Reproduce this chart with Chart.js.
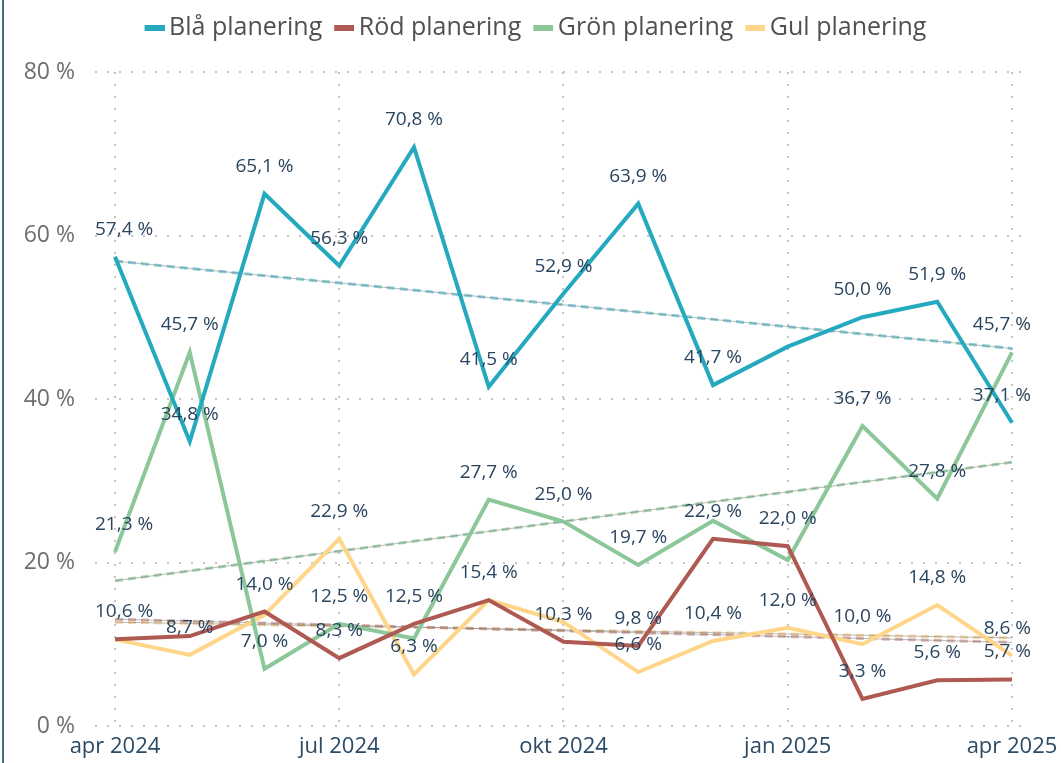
<!DOCTYPE html>
<html lang="sv">
<head>
<meta charset="utf-8">
<title>Planering per månad</title>
<script src="https://cdn.jsdelivr.net/npm/chart.js@4.4.1/dist/chart.umd.min.js"></script>
<style>
  html, body { margin: 0; padding: 0; background: #fff; }
  canvas { display: block; }
</style>
</head>
<body>
<canvas id="chart" width="1061" height="763"></canvas>
<script>
(function () {

  'use strict';

  // Months on the x axis, one point per month.
  var MONTHS = [
    'apr 2024', 'maj 2024', 'jun 2024', 'jul 2024', 'aug 2024', 'sep 2024',
    'okt 2024', 'nov 2024', 'dec 2024', 'jan 2025', 'feb 2025', 'mar 2025', 'apr 2025'
  ];

  // Only every third month gets a tick label and a grid line.
  var TICK_MONTHS = [0, 3, 6, 9, 12];

  var Y_TICKS = [0, 20, 40, 60, 80];

  var SERIES_NAMES = ['Blå planering', 'Röd planering', 'Grön planering', 'Gul planering'];

  // Shares in percent.
  var BLUE = [57.4, 34.8, 65.1, 56.3, 70.8, 41.5, 52.9, 63.9, 41.7, 46.4, 50.0, 51.9, 37.1];
  var RED = [10.6, 11.0, 14.0, 8.3, 12.5, 15.4, 10.3, 9.8, 22.9, 22.0, 3.3, 5.6, 5.7];
  var GREEN = [21.3, 45.7, 7.0, 12.5, 10.7, 27.7, 25.0, 19.7, 25.1, 20.3, 36.7, 27.8, 45.7];
  var YELLOW = [10.6, 8.7, 13.6, 22.9, 6.3, 15.4, 12.7, 6.6, 10.4, 12.0, 10.0, 14.8, 8.6];

  // Points whose value label is not shown in the original (overlaps).
  var BLUE_NO_LABEL = [9];
  var RED_NO_LABEL = [1];
  var GREEN_NO_LABEL = [4, 8, 9];
  var YELLOW_NO_LABEL = [0, 2, 5, 6];

  var COLORS = ['#25A9BE', '#AE5A52', '#8CC79A', '#FFD58A'];
  var TREND_COLORS = [
    'rgba(37, 169, 190, 0.55)',
    'rgba(174, 90, 82, 0.45)',
    'rgba(140, 199, 154, 0.75)',
    'rgba(240, 190, 110, 0.6)'
  ];

  var LABEL_COLOR = '#2A4560';
  var FONT = '"Open Sans", "Noto Sans", "DejaVu Sans", sans-serif';

  /**
   * Least squares line through the series, returned as its two ends.
   */
  function trendEnds(values) {
    var n = values.length;
    var mx = (n - 1) / 2;
    var my = values.reduce(function (a, b) { return a + b; }, 0) / n;
    var sxy = 0;
    var sxx = 0;
    values.forEach(function (v, i) {
      sxy += (i - mx) * (v - my);
      sxx += (i - mx) * (i - mx);
    });
    var slope = sxy / sxx;
    return [
      { x: 0, y: my - slope * mx },
      { x: n - 1, y: my + slope * (n - 1 - mx) }
    ];
  }

  function toPoints(values) {
    return values.map(function (v, i) { return { x: i, y: v }; });
  }

  function formatPct(v) {
    return v.toFixed(1).replace('.', ',') + ' %';
  }

  /**
   * Legend swatch as a small image; the bar sits at the right side of the
   * image so it ends up close to the legend text.
   */
  function swatch(color) {
    var c = document.createElement('canvas');
    c.width = 36;
    c.height = 6;
    var g = c.getContext('2d');
    g.fillStyle = color;
    g.fillRect(16, 0, 20, 6);
    return c;
  }

  var seriesValues = [BLUE, RED, GREEN, YELLOW];
  var noLabels = [BLUE_NO_LABEL, RED_NO_LABEL, GREEN_NO_LABEL, YELLOW_NO_LABEL];

  var datasets = [];
  seriesValues.forEach(function (values, s) {
    datasets.push({
      label: SERIES_NAMES[s],
      data: toPoints(values),
      borderColor: COLORS[s],
      backgroundColor: COLORS[s],
      borderWidth: 4,
      pointRadius: 0,
      tension: 0,
      order: s + 1,
      valueLabels: true,
      noLabel: noLabels[s]
    });
  });
  seriesValues.forEach(function (values, s) {
    var ends = trendEnds(values);
    datasets.push({
      label: 'trend',
      data: ends,
      borderColor: TREND_COLORS[s],
      borderWidth: 3,
      borderDash: [8, 5],
      pointRadius: 0,
      order: 20,
      isTrend: true
    });
    datasets.push({
      label: 'trend',
      data: ends,
      borderColor: 'rgba(130, 130, 130, 0.55)',
      borderWidth: 1,
      pointRadius: 0,
      order: 19,
      isTrend: true
    });
  });

  // Thin frame line on the left edge of the visual.
  var framePlugin = {
    id: 'frame',
    beforeDraw: function (chart) {
      var ctx = chart.ctx;
      ctx.save();
      ctx.fillStyle = '#3F6E7C';
      ctx.fillRect(2, 0, 2, chart.height);
      ctx.restore();
    }
  };

  // Keep the legend band tall so the plot starts where the original does,
  // and centre the legend on the whole visual rather than the left part.
  var legendBandPlugin = {
    id: 'legendBand',
    beforeLayout: function (chart) {
      var legend = chart.legend;
      if (!legend || legend._bandPatched) {
        return;
      }
      var fit = legend.fit;
      var draw = legend.draw;
      legend.fit = function () {
        fit.call(this);
        this.height = 61;
      };
      legend.draw = function () {
        this.ctx.save();
        this.ctx.translate(19, 0);
        draw.call(this);
        this.ctx.restore();
      };
      legend._bandPatched = true;
    }
  };

  // Value labels above each point.
  var valueLabelPlugin = {
    id: 'valueLabels',
    afterDatasetsDraw: function (chart) {
      var ctx = chart.ctx;
      var area = chart.chartArea;
      ctx.save();
      ctx.font = '19px ' + FONT;
      ctx.fillStyle = LABEL_COLOR;
      ctx.textAlign = 'center';
      ctx.textBaseline = 'alphabetic';
      chart.data.datasets.forEach(function (ds, di) {
        if (!ds.valueLabels) {
          return;
        }
        var meta = chart.getDatasetMeta(di);
        meta.data.forEach(function (pt, i) {
          if (ds.noLabel.indexOf(i) !== -1) {
            return;
          }
          var text = formatPct(ds.data[i].y);
          var w = ctx.measureText(text).width;
          var x = Math.min(Math.max(pt.x, area.left + w / 2), area.right + 6 - w / 2);
          ctx.fillText(text, x, pt.y - 22);
        });
      });
      ctx.restore();
    }
  };

  new Chart(document.getElementById('chart'), {
    type: 'line',
    data: { datasets: datasets },
    plugins: [framePlugin, legendBandPlugin, valueLabelPlugin],
    options: {
      responsive: false,
      animation: false,
      layout: { padding: { top: 11, right: 36, bottom: 0, left: 0 } },
      plugins: {
        tooltip: { enabled: false },
        legend: {
          position: 'top',
          labels: {
            usePointStyle: true,
            pointStyleWidth: 20,
            boxHeight: 6,
            padding: 4,
            color: '#505050',
            font: { family: FONT, size: 25 },
            generateLabels: function (chart) {
              return Chart.defaults.plugins.legend.labels.generateLabels(chart)
                .filter(function (item) {
                  return !chart.data.datasets[item.datasetIndex].isTrend;
                })
                .map(function (item) {
                  item.pointStyle = swatch(COLORS[item.datasetIndex]);
                  item.lineWidth = 0;
                  return item;
                });
            }
          }
        }
      },
      scales: {
        x: {
          type: 'linear',
          min: -20 / 74.75,
          max: 12 + 13 / 74.75,
          afterBuildTicks: function (scale) {
            scale.ticks = TICK_MONTHS.map(function (v) { return { value: v }; });
          },
          afterFit: function (scale) {
            scale.paddingLeft = 0;
            scale.paddingRight = 0;
            scale.height = 37;
          },
          ticks: {
            autoSkip: false,
            maxRotation: 0,
            padding: 8,
            color: '#2A4A66',
            font: { family: FONT, size: 22 },
            callback: function (v) { return MONTHS[v]; }
          },
          grid: { color: '#C4C4C4', lineWidth: 2, drawTicks: false },
          border: { display: false, dash: [2, 10] }
        },
        y: {
          min: 0,
          max: 80,
          afterBuildTicks: function (scale) {
            scale.ticks = Y_TICKS.map(function (v) { return { value: v }; });
          },
          afterFit: function (scale) {
            scale.width = 95;
          },
          ticks: {
            padding: 20,
            color: '#6E6E6E',
            font: { family: FONT, size: 23 },
            callback: function (v) { return v + ' %'; }
          },
          grid: { color: '#C4C4C4', lineWidth: 2, drawTicks: false },
          border: { display: false, dash: [2, 10] }
        }
      }
    }
  });

})();
</script>
</body>
</html>
